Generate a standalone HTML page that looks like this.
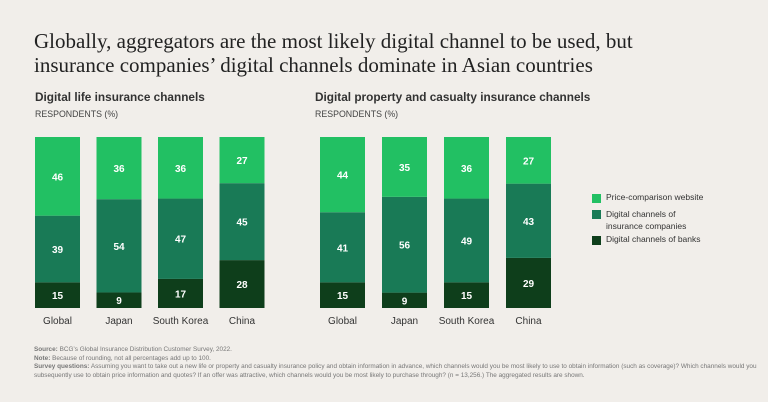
<!DOCTYPE html>
<html><head><meta charset="utf-8"><style>
body{margin:0;width:768px;height:402px;background:#f1eeea;font-family:"Liberation Sans",sans-serif;overflow:hidden;position:relative}
.t{position:absolute;white-space:nowrap}
</style></head><body>
<div class="t" style="left:34px;top:29px;font-family:'Liberation Serif',serif;font-size:21px;line-height:24px;color:#222">Globally, aggregators are the most likely digital channel to be used, but<br>insurance companies’ digital channels dominate in Asian countries</div>
<div class="t" style="left:35px;top:90px;font-size:11.8px;font-weight:bold;color:#333">Digital life insurance channels</div>
<div class="t" style="left:35px;top:109px;font-size:8.8px;color:#444">RESPONDENTS (%)</div>
<div class="t" style="left:315px;top:90px;font-size:11.8px;font-weight:bold;color:#333">Digital property and casualty insurance channels</div>
<div class="t" style="left:315px;top:109px;font-size:8.8px;color:#444">RESPONDENTS (%)</div>
<svg id="c" width="768" height="402" style="position:absolute;left:0;top:0"></svg>
<div>
<div class="t" style="left:592px;top:194px;width:9px;height:9px;background:#22c063"></div>
<div class="t" style="left:606px;top:192px;font-size:8.5px;color:#333">Price-comparison website</div>
<div class="t" style="left:592px;top:210px;width:9px;height:9px;background:#197a56"></div>
<div class="t" style="left:606px;top:208px;font-size:8.5px;line-height:12px;color:#333">Digital channels of<br>insurance companies</div>
<div class="t" style="left:592px;top:236px;width:9px;height:9px;background:#0e3e1b"></div>
<div class="t" style="left:606px;top:234px;font-size:8.5px;color:#333">Digital channels of banks</div>
</div>
<div class="t" style="left:34px;top:346px;font-size:6.4px;line-height:8.5px;color:#777">
<b>Source:</b> BCG’s Global Insurance Distribution Customer Survey, 2022.<br>
<b>Note:</b> Because of rounding, not all percentages add up to 100.<br>
<b>Survey questions:</b> Assuming you want to take out a new life or property and casualty insurance policy and obtain information in advance, which channels would you be most likely to use to obtain information (such as coverage)? Which channels would you<br>subsequently use to obtain price information and quotes? If an offer was attractive, which channels would you be most likely to purchase through? (n = 13,256.) The aggregated results are shown.</div>
<script>
const categories=["Global","Japan","South Korea","China"];
const lifePrice=[46,36,36,27];
const lifeInsurers=[39,54,47,45];
const lifeBanks=[15,9,17,28];
const pcPrice=[44,35,36,27];
const pcInsurers=[41,56,49,43];
const pcBanks=[15,9,15,29];
const colors=["#0e3e1b","#197a56","#22c063"];
const svg=document.getElementById('c');
const NS="http://www.w3.org/2000/svg";
const top0=137,bot=308,bw=45;
function draw(x0,step,series,prefix){
  categories.forEach((cat,i)=>{
    const vals=[series[2][i],series[1][i],series[0][i]];
    const tot=vals.reduce((a,b)=>a+b,0);
    const x=x0+i*step;
    let y=bot;
    vals.forEach((v,k)=>{
      const h=v/tot*(bot-top0);
      const r=document.createElementNS(NS,'rect');
      r.setAttribute('x',x);r.setAttribute('y',y-h);r.setAttribute('width',bw);r.setAttribute('height',h);
      r.setAttribute('fill',colors[k]);
      
      
      svg.appendChild(r);
      const t=document.createElementNS(NS,'text');
      t.setAttribute('x',x+bw/2);t.setAttribute('y',y-h/2+4);t.setAttribute('text-anchor','middle');
      t.setAttribute('font-size','10');t.setAttribute('font-weight','bold');t.setAttribute('fill','#fff');
      t.setAttribute('font-family','Liberation Sans, sans-serif');
      t.textContent=v;
      
      
      svg.appendChild(t);
      y-=h;
    });
    const l=document.createElementNS(NS,'text');
    l.setAttribute('x',x+bw/2);l.setAttribute('y',324);l.setAttribute('text-anchor','middle');
    l.setAttribute('font-size','10');l.setAttribute('fill','#333');l.setAttribute('font-family','Liberation Sans, sans-serif');
    l.textContent=cat;
    
    
    svg.appendChild(l);
  });
}
draw(35,61.5,[lifePrice,lifeInsurers,lifeBanks],'life');
draw(320,62,[pcPrice,pcInsurers,pcBanks],'pc');
</script>
</body></html>
